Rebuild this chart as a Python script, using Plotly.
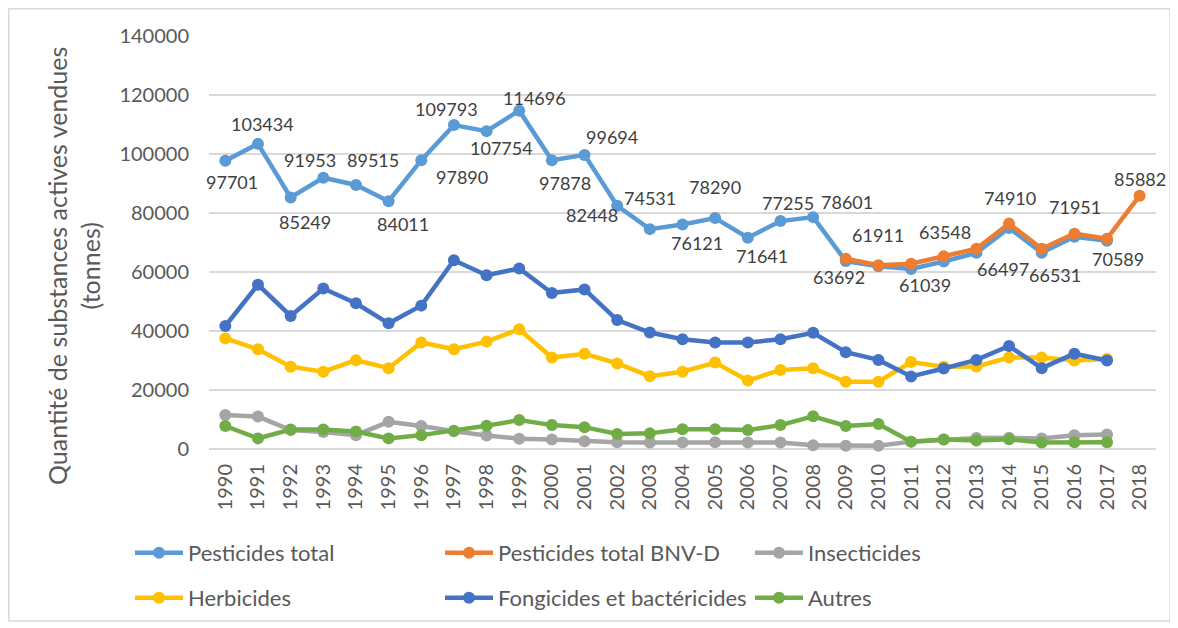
import plotly.graph_objects as go

years = list(range(1990, 2019))

pesticides_total = [97701, 103434, 85249, 91953, 89515, 84011, 97890, 109793, 107754, 114696,
                    97878, 99694, 82448, 74531, 76121, 78290, 71641, 77255, 78601, 63692,
                    61911, 61039, 63548, 66497, 74910, 66531, 71951, 70589, None]
pesticides_bnvd = [None] * 19 + [64500, 62300, 62800, 65300, 67900, 76400, 67900, 73000, 71300, 85882]
insecticides = [11500, 11000, 6400, 5800, 4700, 9200, 7800, 6000, 4600, 3500,
                3200, 2600, 2300, 2200, 2200, 2300, 2200, 2200, 1300, 1100,
                1100, 2500, 3200, 3700, 3800, 3600, 4700, 4900, None]
herbicides = [37500, 33800, 27900, 26200, 30100, 27400, 36100, 33800, 36400, 40600,
              31000, 32300, 29000, 24700, 26200, 29300, 23200, 26800, 27400, 22800,
              22800, 29500, 27900, 28000, 31000, 31000, 30000, 30500, None]
fongicides = [41700, 55700, 45100, 54400, 49400, 42600, 48600, 64000, 58900, 61200,
              52900, 54100, 43700, 39500, 37200, 36100, 36100, 37200, 39400, 32800,
              30200, 24600, 27300, 30200, 34900, 27400, 32300, 30000, None]
autres = [7800, 3600, 6600, 6600, 5900, 3600, 4700, 6200, 7900, 9800,
          8100, 7400, 5100, 5300, 6700, 6700, 6400, 8100, 11100, 7800,
          8500, 2500, 3200, 2900, 3300, 2200, 2300, 2300, None]

# data-label offsets (pixels, dx, dy with dy positive = down) for "Pesticides total"
label_offsets = [(7, 21), (5, -20), (14, 24), (-13, -18), (17, -25), (14, 23), (41, 17),
                 (-7, -16), (15, 17), (15, -13), (13, 23), (27, -18), (-25, 9), (0, -31),
                 (14, 19), (0, -31), (14, 18), (8, -18), (34, -15), (-7, 16), (0, -31),
                 (14, 16), (1, -30), (27, 16), (1, -30), (13, 22), (1, -30), (11, 18)]
bnvd_last_offset = (0, -17)

FONT = "Lato, 'Open Sans', sans-serif"
TXT = "#404040"
GREY = "#595959"

series = [
    ("Pesticides total", pesticides_total, "#5B9BD5", "legend"),
    ("Pesticides total BNV-D", pesticides_bnvd, "#ED7D31", "legend"),
    ("Insecticides", insecticides, "#A5A5A5", "legend"),
    ("Herbicides", herbicides, "#FFC000", "legend2"),
    ("Fongicides et bactéricides", fongicides, "#4472C4", "legend2"),
    ("Autres", autres, "#70AD47", "legend2"),
]

fig = go.Figure()
for name, vals, col, leg in series:
    fig.add_trace(go.Scatter(
        x=years, y=vals, name=name, legend=leg, mode="lines+markers",
        line=dict(color=col, width=4.5),
        marker=dict(color=col, size=12),
        connectgaps=False, cliponaxis=False))

# data labels, placed at the data points through the axes, shifted in pixels
for yr, v, (dx, dy) in zip(years, pesticides_total, label_offsets):
    if v is None:
        continue
    fig.add_annotation(x=yr, y=v, xref="x", yref="y", text=str(v), showarrow=False,
                       xshift=dx, yshift=-dy, xanchor="center", yanchor="middle",
                       font=dict(family=FONT, size=18, color=TXT))
fig.add_annotation(x=years[-1], y=pesticides_bnvd[-1], xref="x", yref="y",
                   text=str(pesticides_bnvd[-1]),
                   showarrow=False, xshift=bnvd_last_offset[0], yshift=-bnvd_last_offset[1],
                   xanchor="center", yanchor="middle",
                   font=dict(family=FONT, size=18, color=TXT))

# the page body has an 8px margin: work in window pixels and convert
OFF = 8
W, H = 1178 - OFF, 628 - OFF
PL, PR, PT, PB = 209 - OFF, 1156 - OFF, 36 - OFF, 449 - OFF
pw, ph = PR - PL, PB - PT

def px(x):
    return (x - OFF - PL) / pw

def py(y):
    return (PB - (y - OFF)) / ph

legend_common = dict(orientation="h", xanchor="left", yanchor="middle",
                     font=dict(family=FONT, size=22, color=GREY),
                     entrywidth=247, entrywidthmode="pixels",
                     bgcolor="rgba(0,0,0,0)", itemwidth=48)

fig.update_layout(
    width=W, height=H,
    margin=dict(l=PL, r=W - PR, t=PT, b=H - PB, autoexpand=False),
    paper_bgcolor="white", plot_bgcolor="white",
    font=dict(family=FONT, color=GREY),
    showlegend=True,
    legend=dict(x=px(130), y=py(553), **legend_common),
    legend2=dict(x=px(130), y=py(598), **legend_common),
    xaxis=dict(type="linear", tickmode="linear", tick0=1990, dtick=1, tickformat="d",
               tickangle=-90, showgrid=False,
               range=[1989.5, 2018.5], automargin=False,
               tickfont=dict(family=FONT, size=20, color=GREY),
               ticklabelstandoff=10,
               showline=False, ticks="", zeroline=False),
    yaxis=dict(range=[0, 140000], dtick=20000, tickformat="d", automargin=False,
               showgrid=True, gridcolor="#D9D9D9",
               gridwidth=1.5, zeroline=True, zerolinecolor="#D9D9D9", zerolinewidth=1.5,
               tickfont=dict(family=FONT, size=20, color=GREY), ticks="",
               ticklabelstandoff=19),
)

fig.add_annotation(text="Quantité de substances actives vendues<br>(tonnes)",
                   xref="paper", yref="paper", x=px(73), y=py(266),
                   xanchor="center", yanchor="middle", textangle=-90, showarrow=False,
                   font=dict(family=FONT, size=25, color=GREY))

fig.add_shape(type="rect", xref="paper", yref="paper",
              x0=px(8.8), x1=px(1170), y0=py(621), y1=py(8.8),
              line=dict(color="#D9D9D9", width=1.5), fillcolor="rgba(0,0,0,0)", layer="below")

fig.write_html("out.html")
